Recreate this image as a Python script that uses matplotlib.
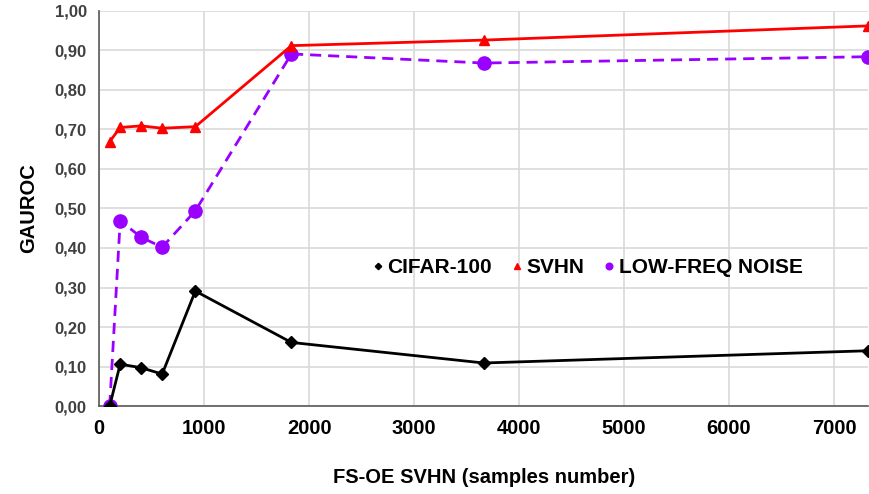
import matplotlib.pyplot as plt
from matplotlib.ticker import FuncFormatter, MultipleLocator

plt.rcParams['font.family'] = ['Liberation Sans', 'DejaVu Sans']

# data
samples = [100, 200, 400, 600, 916, 1831, 3663, 7326]
cifar100 = [0.00, 0.106, 0.097, 0.081, 0.291, 0.161, 0.109, 0.140]
svhn = [0.669, 0.705, 0.709, 0.703, 0.707, 0.912, 0.926, 0.962]
low_freq_noise = [0.00, 0.469, 0.427, 0.402, 0.494, 0.891, 0.868, 0.884]

fig = plt.figure(figsize=(8.7, 4.94), dpi=100)
ax = fig.add_axes([0.114, 0.178, 0.884, 0.80])

ax.plot(samples, low_freq_noise, color='#9900FF', linestyle='--', linewidth=2,
        dashes=(4, 2.5), marker='o', markersize=9.5, label='LOW-FREQ NOISE', zorder=3)
ax.plot(samples, cifar100, color='black', linewidth=2, marker='D', markersize=6.5,
        label='CIFAR-100', zorder=4)
ax.plot(samples, svhn, color='#FF0000', linewidth=2, marker='^', markersize=7.5,
        label='SVHN', zorder=4)

ax.set_xlim(0, 7326)
ax.set_ylim(0, 1.0)
ax.xaxis.set_major_locator(MultipleLocator(1000))
ax.yaxis.set_major_locator(MultipleLocator(0.1))
ax.yaxis.set_major_formatter(FuncFormatter(lambda v, p: f'{v:.2f}'.replace('.', ',')))
ax.grid(True, color='#d9d9d9', linewidth=1.2)
ax.set_axisbelow(True)

for s in ['top', 'right']:
    ax.spines[s].set_visible(False)
for s in ['left', 'bottom']:
    ax.spines[s].set_color('#595959')
    ax.spines[s].set_linewidth(1.2)

ax.tick_params(length=0, pad=9)
for lbl in ax.get_xticklabels():
    lbl.set_fontweight('bold')
    lbl.set_fontsize(14.5)
for lbl in ax.get_yticklabels():
    lbl.set_fontweight('bold')
    lbl.set_fontsize(12)
    lbl.set_color('#404040')

ax.set_xlabel('FS-OE SVHN (samples number)', fontsize=14.5, fontweight='bold', labelpad=22)
ax.set_ylabel('GAUROC', fontsize=14.5, fontweight='bold', labelpad=12)

handles, labels = ax.get_legend_handles_labels()
order = [1, 2, 0]
leg = ax.legend([handles[i] for i in order], [labels[i] for i in order],
                loc='center', bbox_to_anchor=(0.636, 0.35), ncol=3, frameon=False,
                handlelength=0.4, handletextpad=0.25, columnspacing=1.0, markerscale=0.5,
                prop={'weight': 'bold', 'size': 15})
for h in leg.legend_handles:
    h.set_linestyle('None')

fig.savefig('out.png', dpi=100)
